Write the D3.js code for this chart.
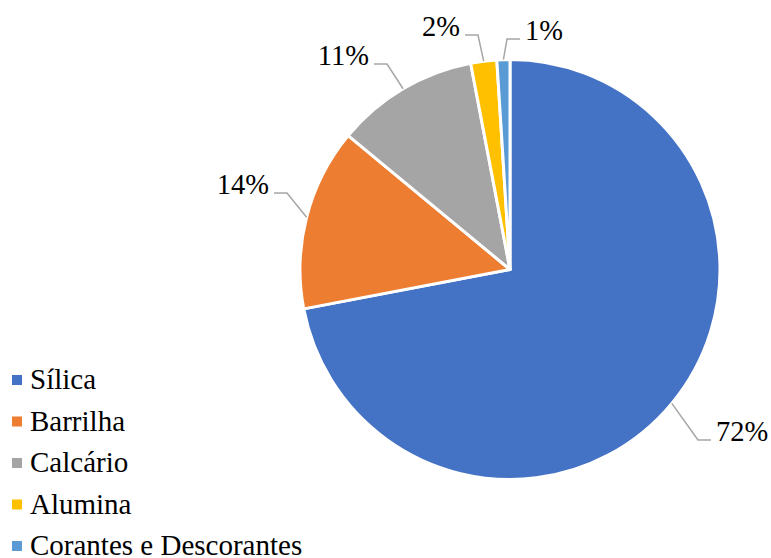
<!DOCTYPE html>
<html>
<head>
<meta charset="utf-8">
<script src="https://cdn.jsdelivr.net/npm/d3@7"></script>
<style>
  html, body { margin: 0; padding: 0; background: #fff; }
  svg { display: block; }
</style>
</head>
<body>
<svg id="chart" width="771" height="558"></svg>
<script>
// Composition of the batch (percent)
const categories = ["Sílica", "Barrilha", "Calcário", "Alumina", "Corantes e Descorantes"];
const values = [72, 14, 11, 2, 1];
const colors = ["#4472C4", "#ED7D31", "#A5A5A5", "#FFC000", "#5B9BD5"];

// Leader-line elbows relative to the pie centre, and the side the label sits on
const labelElbows = [[188, 170.5], [-223, -76.5], [-123, -205.5], [-32, -234.5], [-3, -230.5]];
const labelSides = [1, -1, -1, -1, 1];

const fontFamily = "'Liberation Serif', 'Times New Roman', serif";

const svg = d3.select("#chart").style("font-family", fontFamily);
const cx = 510, cy = 269.5, radius = 210;

const pie = d3.pie().sort(null).value(d => d.value);
const data = categories.map((c, i) => ({ name: c, value: values[i], color: colors[i], i }));
const arcs = pie(data);

const arc = d3.arc().innerRadius(0).outerRadius(radius);
const edgeArc = d3.arc().innerRadius(radius).outerRadius(radius);

const g = svg.append("g").attr("transform", `translate(${cx},${cy})`);

g.selectAll("path.slice")
  .data(arcs)
  .join("path")
  .attr("class", "slice")
  .attr("d", arc)
  .attr("fill", d => d.data.color)
  .attr("stroke", "#fff")
  .attr("stroke-width", 3)
  .attr("stroke-linejoin", "round");

// Leader lines and percentage labels
const total = d3.sum(values);
arcs.forEach(d => {
  const i = d.data.i;
  const start = edgeArc.centroid(d);
  const elbow = labelElbows[i];
  const side = labelSides[i];
  const end = [elbow[0] + side * 13, elbow[1]];
  g.append("polyline")
    .attr("points", [start, elbow, end].map(p => p.join(",")).join(" "))
    .attr("fill", "none")
    .attr("stroke", "#A6A6A6")
    .attr("stroke-width", 1.5);
  g.append("text")
    .attr("x", end[0] + side * 5)
    .attr("y", elbow[1] + 1)
    .attr("text-anchor", side > 0 ? "start" : "end")
    .style("font-family", fontFamily)
    .attr("font-size", 28.5)
    .attr("fill", "#000")
    .text(Math.round(d.data.value / total * 100) + "%");
});

// Legend
const legend = svg.append("g").attr("transform", "translate(12,375)");
const rowH = 41.5;
const rows = legend.selectAll("g.item")
  .data(data)
  .join("g")
  .attr("class", "item")
  .attr("transform", (d, i) => `translate(0,${i * rowH})`);
rows.append("rect")
  .attr("width", 10).attr("height", 10)
  .attr("fill", d => d.color);
rows.append("text")
  .attr("x", 18).attr("y", 14)
  .style("font-family", fontFamily)
  .attr("font-size", 29)
  .attr("fill", "#000")
  .text(d => d.name);
</script>
</body>
</html>
